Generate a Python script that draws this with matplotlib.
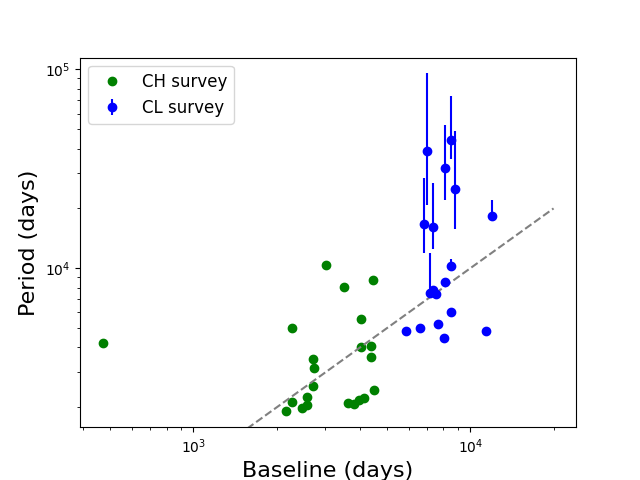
import numpy as np
import matplotlib
matplotlib.use("Agg")
import matplotlib.pyplot as plt

# CH survey (green)
ch_baseline = [472, 2279, 3024, 3512, 4472, 4037, 4048, 4398, 4398, 2715, 2737,
               2701, 2582, 2279, 2168, 2477, 2582, 3632, 3808, 3981, 4150, 4499]
ch_period = [4235, 4983, 10354, 8021, 8700, 5532, 4044, 4090, 3600, 3517, 3169,
             2570, 2262, 2135, 1922, 1991, 2062, 2110, 2085, 2184, 2218, 2454]

# CL survey (blue) with asymmetric errors
cl_baseline = [6953, 8537, 8074, 8776, 6780, 7350, 12010, 8488, 7127, 7332, 7516,
               8074, 8488, 5837, 6597, 7680, 8035, 11360]
cl_period = [39040, 44360, 31930, 25020, 16730, 16150, 18360, 10235, 7481, 7774, 7395,
             8500, 5999, 4829, 4983, 5237, 4467, 4829]
cl_err_hi = [95450, 73080, 52800, 49240, 28540, 26930, 22100, 11140, 11900, 7774, 7395,
             8500, 5999, 4829, 4983, 5237, 4467, 4829]
cl_err_lo = [20850, 35570, 21920, 15840, 11990, 12560, 18360, 10235, 7481, 7774, 7395,
             8500, 5999, 4829, 4983, 5237, 4467, 4829]

line_x = [1000, 20000]
line_y = [1000, 20000]

cl_p = np.array(cl_period)
yerr = [cl_p - np.array(cl_err_lo), np.array(cl_err_hi) - cl_p]

fig, ax = plt.subplots(figsize=(6.4, 4.8), dpi=100)
ax.plot(ch_baseline, ch_period, 'o', color='green', label='CH survey')
ax.errorbar(cl_baseline, cl_period, yerr=yerr, fmt='o', color='blue', label='CL survey')
ax.plot(line_x, line_y, '--', color='gray')
ax.set_xscale('log')
ax.set_yscale('log')
ax.set_xlim(389.5, 24100)
ax.set_ylim(1589, 114600)
ax.set_xlabel('Baseline (days)', fontsize=16)
ax.set_ylabel('Period (days)', fontsize=16)
ax.legend(loc='upper left', fontsize=12)
fig.savefig('out.png', dpi=100)
